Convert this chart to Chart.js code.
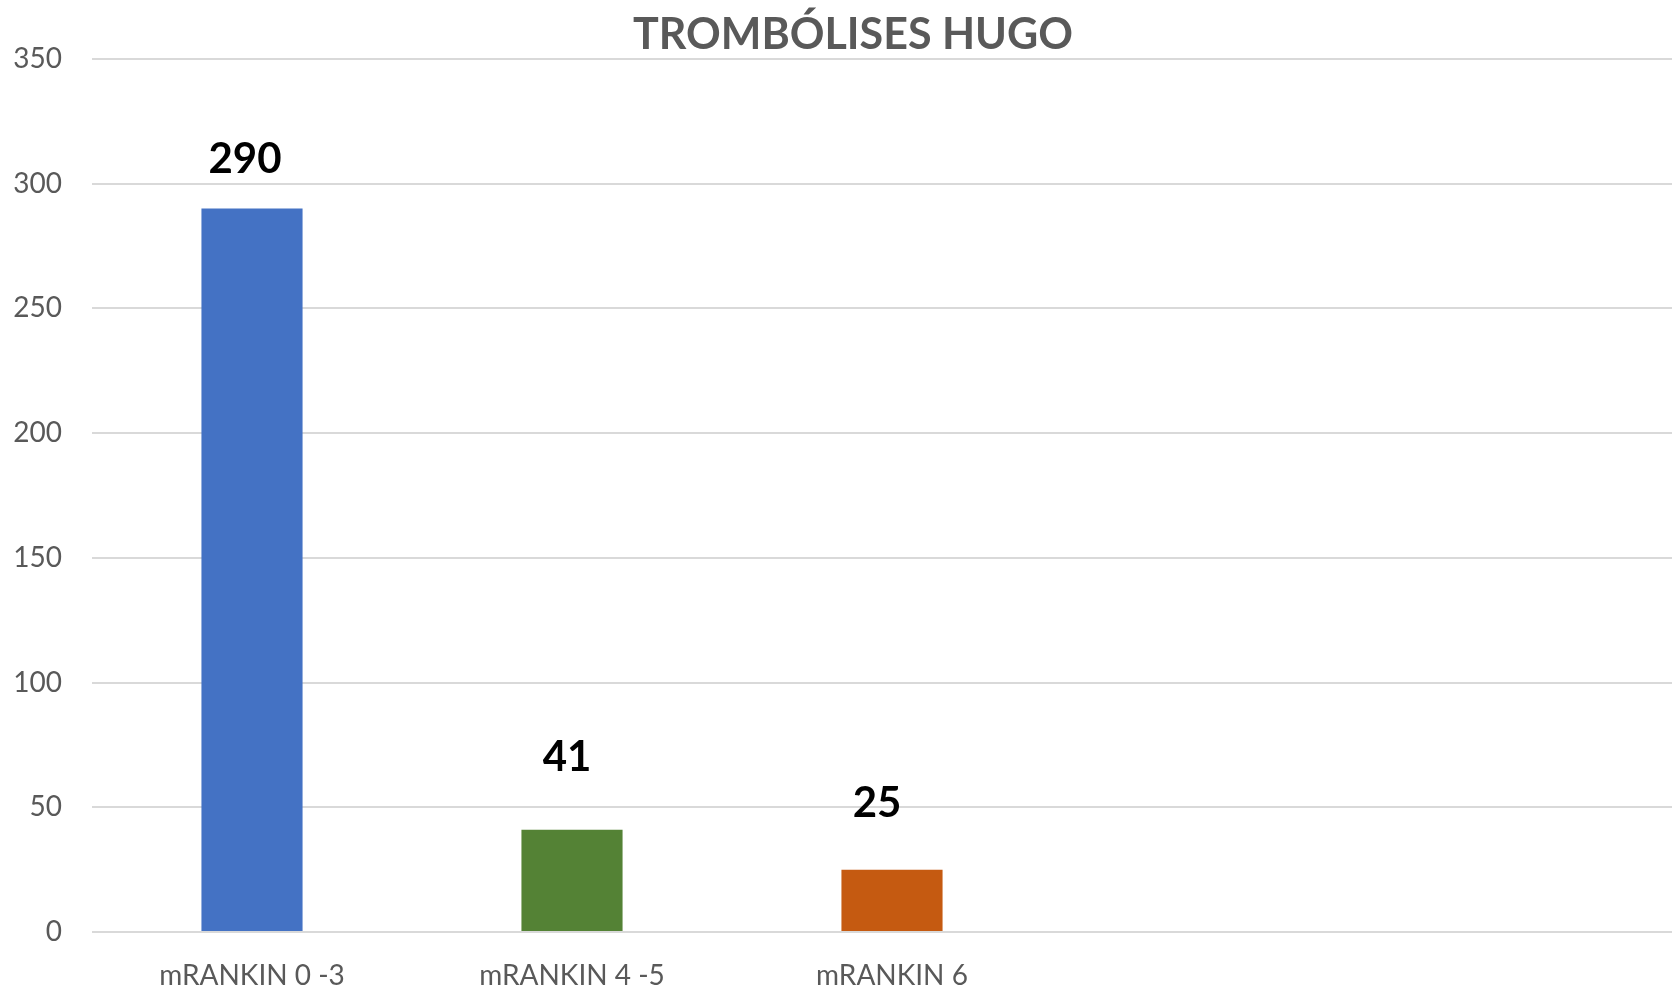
<!DOCTYPE html>
<html>
<head>
<meta charset="utf-8">
<script src="https://cdn.jsdelivr.net/npm/chart.js@4"></script>
<style>
    html, body { margin: 0; padding: 0; background: #fff; overflow: hidden; }
    #wrap { width: 1706px; height: 989px; }
</style>
</head>
<body>
<div id="wrap"><canvas id="barchart" width="1706" height="989"></canvas></div>
<script>
const ctx = document.getElementById('barchart').getContext('2d');

// Data (last two categories are empty in the original sheet)
const categories = ['mRANKIN 0 -3', 'mRANKIN 4 -5', 'mRANKIN 6', '', ''];
const values = [290, 41, 25, null, null];
const yTicks = [0, 50, 100, 150, 200, 250, 300, 350];

const barColors = ['#4472C4', '#548235', '#C55A11', '#A5A5A5', '#FFC000'];

// Labels were nudged by hand in the original, keep the same nudges
const labelDx = [-7, -5, -15, 0, 0];
const labelDy = [49, 72, 66, 0, 0];

const valueLabels = {
    id: 'valueLabels',
    afterDatasetsDraw(chart) {
        const c = chart.ctx;
        const meta = chart.getDatasetMeta(0);
        c.save();
        c.font = 'bold 42px Lato';
        c.fillStyle = '#000';
        c.textAlign = 'center';
        c.textBaseline = 'middle';
        meta.data.forEach((bar, i) => {
            if (values[i] == null) return;
            c.fillText(String(values[i]), bar.x + labelDx[i], bar.y - labelDy[i]);
        });
        c.restore();
    }
};

const barchart = new Chart(ctx, {
    type: 'bar',
    data: {
        labels: categories,
        datasets: [{
            data: values,
            backgroundColor: barColors,
            barPercentage: 0.316,
            categoryPercentage: 1
        }]
    },
    options: {
        responsive: false,
        animation: false,
        layout: { padding: { left: 14, right: 14, top: 0, bottom: 0 } },
        plugins: {
            legend: { display: false },
            tooltip: { enabled: false },
            title: {
                display: true,
                text: 'TROMBÓLISES HUGO',
                color: '#595959',
                font: { family: 'Lato', size: 43, weight: 'bold', lineHeight: 1.1 },
                padding: { top: 11, bottom: 0.5 }
            }
        },
        scales: {
            x: {
                grid: { display: false },
                border: { display: false },
                ticks: {
                    color: '#595959',
                    font: { family: 'Lato', size: 28 },
                    padding: 19,
                    maxRotation: 0
                },
                afterFit(scale) { scale.height = 57; }
            },
            y: {
                min: 0,
                max: 350,
                afterBuildTicks(scale) { scale.ticks = yTicks.map(v => ({ value: v })); },
                grid: { color: '#D9D9D9', lineWidth: 2, drawTicks: false },
                border: { display: false },
                ticks: {
                    color: '#595959',
                    font: { family: 'Lato', size: 28 },
                    padding: 30
                },
                afterFit(scale) { scale.width = 78; }
            }
        }
    },
    plugins: [valueLabels]
});
</script>
</body>
</html>
